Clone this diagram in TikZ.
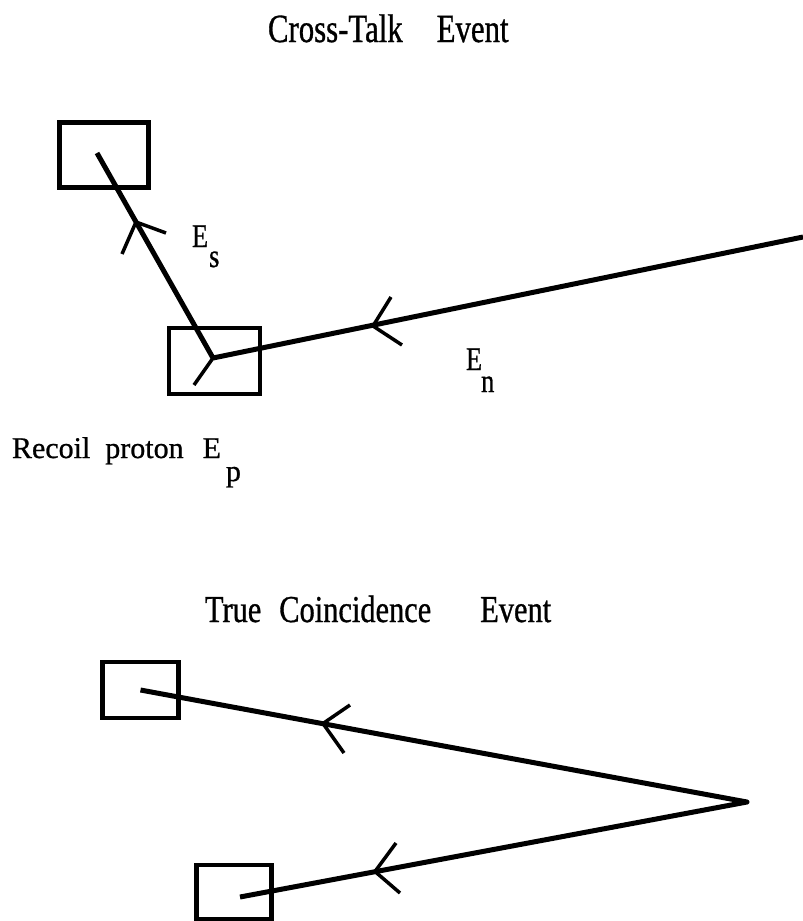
\documentclass[tikz,border=0pt]{standalone}
\usepackage{fontspec}
\setmainfont[FakeBold=0.8]{Liberation Serif}
% narrow serif faces for the headings and energy labels
\newfontfamily\headfont[FakeStretch=0.77,FakeBold=0.8]{Liberation Serif}
\newfontfamily\headfontb[FakeStretch=0.8,FakeBold=0.8]{Liberation Serif}
\newfontfamily\labelfont[FakeStretch=0.8,FakeBold=0.8]{Liberation Serif}

\begin{document}
\begin{tikzpicture}[x=1pt,y=-1pt,
  detector/.style={draw, rectangle, line width=4.2pt, inner sep=0pt},
  track/.style={line width=5pt, line join=round},
  barb/.style={line width=3.5pt, line join=miter},
  txt/.style={anchor=base west, inner sep=0pt, outer sep=0pt}]
\useasboundingbox (0,0) rectangle (803,921);

% ---------------- cross-talk event ----------------
\node[txt] (title1) at (268,42)
  {\fontsize{40}{40}\headfont Cross-Talk\hspace{34pt}Event};

\node[detector, minimum width=89pt, minimum height=65pt] (scat) at (104,155) {};
\node[detector, minimum width=91pt, minimum height=66pt] (prot) at (214.5,361) {};

\coordinate (vtx)  at (213,358);
\coordinate (send) at (97,153);
\coordinate (nin)  at (803,237);

% incoming neutron and scattered neutron
\draw[track] (nin) -- (vtx);
\draw[track] (vtx) -- (send);
% recoil proton stub
\draw[barb] (vtx) -- (194,385);

% direction chevrons
\coordinate (tipS) at (136,222);
\draw[barb] (166,233) -- (tipS) -- (122,254);
\coordinate (tipN) at (373,326);
\draw[barb] (391,297) -- (tipN) -- (402,345);

\node[txt] (Es) at (192,247)
  {\fontsize{33}{33}\labelfont E\kern1pt\raisebox{-20pt}{s}};
\node[txt] (En) at (466,370)
  {\fontsize{33}{33}\labelfont E\kern-1pt\raisebox{-22pt}{n}};
\node[txt] (Ep) at (12,458)
  {\fontsize{30}{30}\selectfont Recoil\hspace{15pt}proton\hspace{19pt}E\kern5pt\raisebox{-23pt}{p}};

% ---------------- true coincidence event ----------------
\node[txt] (title2) at (205,622)
  {\fontsize{38}{38}\headfontb True\hspace{18pt}Coincidence\hspace{49pt}Event};

\node[detector, minimum width=76pt, minimum height=56pt] (det1) at (140.5,690) {};
\node[detector, minimum width=75pt, minimum height=54pt] (det2) at (234,892) {};

\coordinate (src)  at (747,802);
\coordinate (end2) at (240,897);

\draw[track] (det1.center) -- (src) -- (end2);

\coordinate (tipU) at (323,723.5);
\draw[barb] (350,705) -- (tipU) -- (344,753);
\coordinate (tipL) at (375,871.5);
\draw[barb] (396,843) -- (tipL) -- (400,893);
\end{tikzpicture}
\end{document}
